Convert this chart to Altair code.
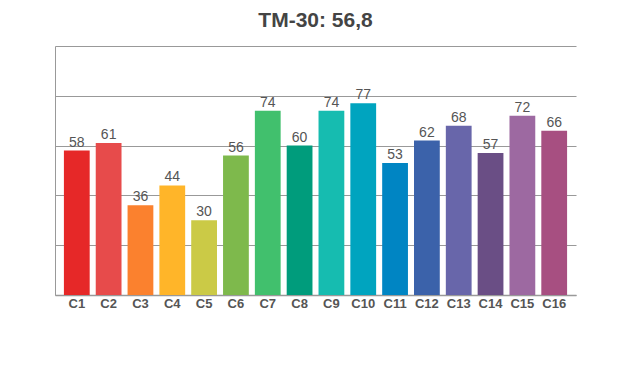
import altair as alt
import pandas as pd

categories = ["C1", "C2", "C3", "C4", "C5", "C6", "C7", "C8",
              "C9", "C10", "C11", "C12", "C13", "C14", "C15", "C16"]
values = [58, 61, 36, 44, 30, 56, 74, 60, 74, 77, 53, 62, 68, 57, 72, 66]
colors = ["#e62828", "#e74b4b", "#fb812e", "#ffb529", "#cbca46", "#7eb94c",
          "#41c06d", "#009c7c", "#16bcb0", "#00a4bf", "#0085c3", "#3b62aa",
          "#6866aa", "#6a4e85", "#9d69a1", "#a74f81"]
grid_values = [0, 20, 40, 60, 80, 100]
title_text = "TM-30: 56,8"

df = pd.DataFrame({"cat": categories, "val": values, "col": colors})

x_enc = alt.X("cat:N", sort=categories,
              scale=alt.Scale(paddingInner=0.19, paddingOuter=0.28),
              axis=alt.Axis(title=None, labelAngle=0, ticks=False, grid=False,
                            labelFont="Liberation Sans", labelFontWeight="bold",
                            labelFontSize=13, labelColor="#555555", labelPadding=2,
                            domainColor="#999999", domainWidth=1.5))
y_enc = alt.Y("val:Q", scale=alt.Scale(domain=[0, 100], nice=False),
              axis=alt.Axis(title=None, labels=False, ticks=False,
                            values=grid_values,
                            grid=True, gridColor="#999999", gridWidth=1,
                            domainColor="#999999", domainWidth=1))

bars = alt.Chart(df).mark_bar().encode(
    x=x_enc, y=y_enc,
    color=alt.Color("col:N", scale=None, legend=None),
)

labels = alt.Chart(df).mark_text(
    baseline="bottom", dy=-1, font="Liberation Sans", fontSize=14, color="#555555"
).encode(
    x=x_enc, y=y_enc, text="val:Q"
)

chart = (bars + labels).properties(
    width=521, height=249,
    title=alt.Title(title_text, font="Liberation Sans", fontSize=21, fontWeight="bold",
                    color="#444444", anchor="middle", offset=15),
    autosize=alt.AutoSizeParams(type="none"),
    padding={"left": 47, "top": 38, "right": 36, "bottom": 60},
).configure_view(stroke=None)

chart.save("out.html", embed_options={"renderer": "svg", "actions": False})
